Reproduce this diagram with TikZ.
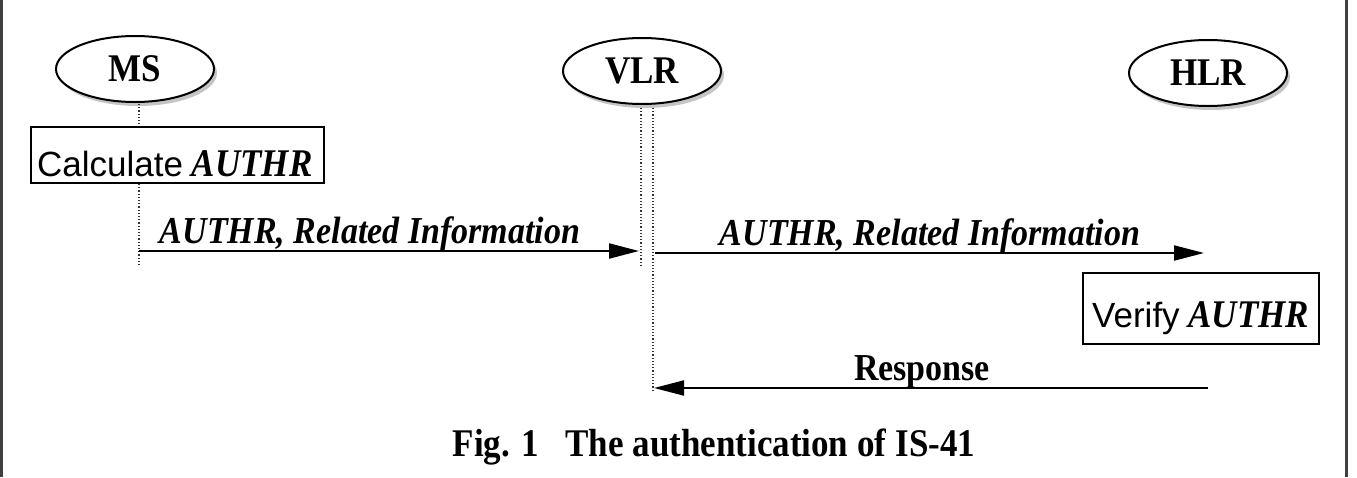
\documentclass[tikz,border=0pt]{standalone}
\usepackage{fontspec}
\setmainfont{Liberation Serif}
\newfontfamily\sansf{Liberation Sans}
\usetikzlibrary{shapes.geometric,shadows,arrows.meta}
\newcommand{\vstretch}[1]{\scalebox{1}[1.12]{#1}}
\tikzset{
  entity/.style={ellipse,draw=black,line width=2pt,fill=white,minimum width=158pt,minimum height=66pt,inner sep=0pt,
    font=\fontsize{35}{40}\selectfont\bfseries,
    drop shadow={shadow xshift=3pt,shadow yshift=-4pt,fill=black!45}},
  lifeline/.style={line width=1.2pt,dash pattern=on 1.2pt off 2pt,black!80},
  msg/.style={line width=2pt,-{Triangle[length=30pt,width=15pt]}},
  msglabel/.style={anchor=base,inner sep=0pt,font=\fontsize{34}{40}\selectfont\bfseries\itshape},
  actbox/.style={draw=black,line width=1.6pt,fill=white,inner sep=0pt},
  acttext/.style={anchor=base west,inner sep=0pt,font=\fontsize{35}{40}\selectfont},
}
\begin{document}
\begin{tikzpicture}[x=1pt,y=-1pt]
\useasboundingbox (0,0) rectangle (1357,477);
% frame sides
\draw[line width=3pt,black!75] (1.5,0) -- (1.5,477);
\draw[line width=3pt,black!75] (1346,0) -- (1346,477);
% entities
\node[entity] (ms) at (135,69) {\raisebox{-6pt}{\vstretch{MS}}};
\node[entity] (vlr) at (642,71) {\raisebox{-7pt}{\vstretch{VLR}}};
\node[entity] (hlr) at (1208,73) {\raisebox{-6pt}{\vstretch{HLR}}};
% lifelines
\coordinate (msT) at (139,104);
\coordinate (msB) at (139,265);
\coordinate (vlrLT) at (641,108);
\coordinate (vlrLB) at (641,265);
\coordinate (vlrRT) at (653,108);
\coordinate (vlrRB) at (653,392);
\draw[lifeline] (msT) -- (msB);
\draw[lifeline] (vlrLT) -- (vlrLB);
\draw[lifeline] (vlrRT) -- (vlrRB);
% activity boxes
\node[actbox,minimum width=293pt,minimum height=56pt,anchor=north west] (calc) at (30,126) {};
\node[acttext] (calct) at (37,176) {{\sansf Calculate} \textbf{\textit{\vstretch{AUTHR}}}};
\node[actbox,minimum width=236pt,minimum height=71pt,anchor=north west] (ver) at (1082,272) {};
\node[acttext] (vert) at (1092,327) {{\sansf Verify} \textbf{\textit{\vstretch{AUTHR}}}};
% messages
\coordinate (m1s) at (139,251);
\coordinate (m1e) at (639,251);
\coordinate (m2s) at (655,253);
\coordinate (m2e) at (1204,253);
\coordinate (m3s) at (1208,388);
\coordinate (m3e) at (654,388);
\draw[msg] (m1s) -- (m1e);
\draw[msg] (m2s) -- (m2e);
\draw[msg] (m3s) -- (m3e);
\node[msglabel] (l1) at (370,243) {\vstretch{AUTHR, Related Information}};
\node[msglabel] (l2) at (930,245) {\vstretch{AUTHR, Related Information}};
\node[msglabel,font=\fontsize{34}{40}\selectfont\bfseries] (l3) at (922,380) {\vstretch{Response}};
% caption
\node[anchor=base,inner sep=0pt,font=\fontsize{35}{40}\selectfont\bfseries] (cap) at (714,456) {\vstretch{Fig. 1\hspace{26pt}The\hspace{9pt}authentication\hspace{9pt}of\hspace{9pt}IS-41}};
\end{tikzpicture}
\end{document}
